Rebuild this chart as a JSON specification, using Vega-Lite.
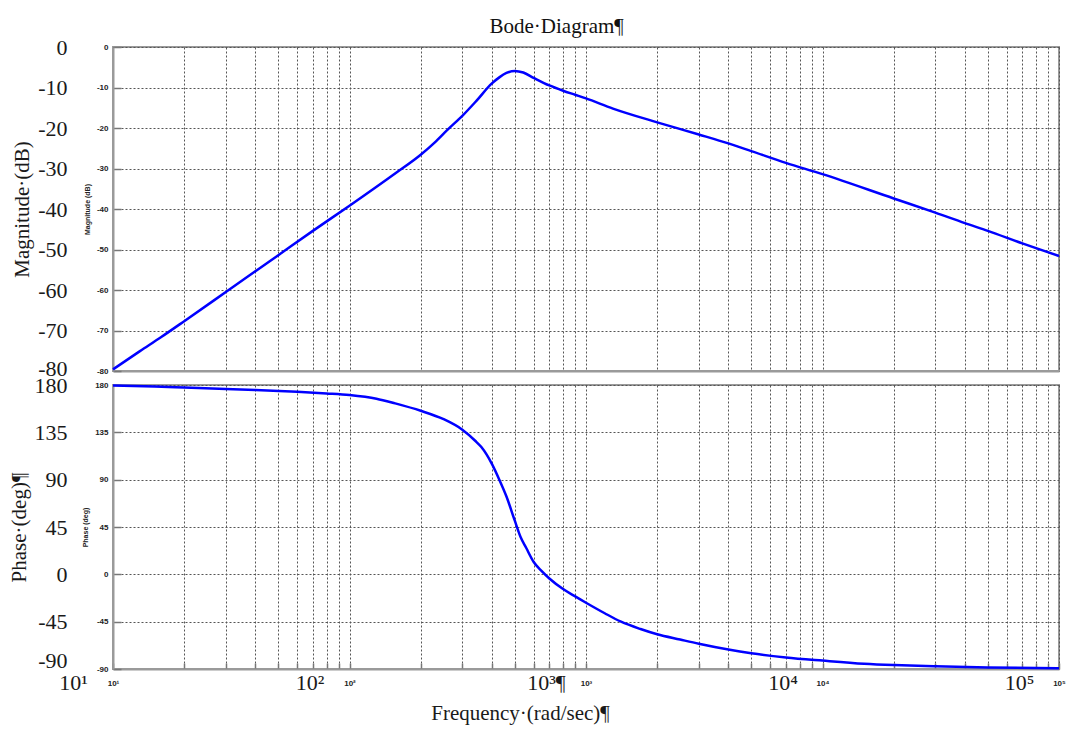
{
  "$schema": "https://vega.github.io/schema/vega-lite/v6.json",
  "background": "white",
  "padding": {"left": 7, "top": 16, "right": 4, "bottom": 4},
  "title": {"text": "Bode·Diagram¶", "font": "Liberation Serif", "fontSize": 21, "fontWeight": "normal", "color": "#111111", "anchor": "middle", "offset": -2, "dx": 20},
  "datasets": {
    "mag": [
      {"freq": 10, "mag": -79.6}, {"freq": 13, "mag": -75.1}, {"freq": 16, "mag": -71.6}, {"freq": 20, "mag": -67.7},
      {"freq": 30, "mag": -60.5}, {"freq": 50, "mag": -51.4}, {"freq": 70, "mag": -45.4}, {"freq": 100, "mag": -39.2},
      {"freq": 158, "mag": -31.0}, {"freq": 200, "mag": -26.6}, {"freq": 229, "mag": -23.6}, {"freq": 260, "mag": -20.4},
      {"freq": 300, "mag": -17.0}, {"freq": 344, "mag": -13.3}, {"freq": 400, "mag": -9.0}, {"freq": 430, "mag": -7.5},
      {"freq": 461, "mag": -6.4}, {"freq": 500, "mag": -5.9}, {"freq": 543, "mag": -6.3}, {"freq": 600, "mag": -7.6},
      {"freq": 700, "mag": -9.5}, {"freq": 800, "mag": -10.8}, {"freq": 900, "mag": -11.8}, {"freq": 1000, "mag": -12.7},
      {"freq": 1300, "mag": -15.2}, {"freq": 2000, "mag": -18.6}, {"freq": 3000, "mag": -21.6}, {"freq": 4000, "mag": -23.8},
      {"freq": 5000, "mag": -25.7}, {"freq": 7000, "mag": -28.6}, {"freq": 10000, "mag": -31.4}, {"freq": 20000, "mag": -37.4},
      {"freq": 30000, "mag": -40.9}, {"freq": 40000, "mag": -43.5}, {"freq": 50000, "mag": -45.4}, {"freq": 70000, "mag": -48.5},
      {"freq": 100000, "mag": -51.6}
    ],
    "phase": [
      {"freq": 10, "phase": 179.5}, {"freq": 15, "phase": 178.6}, {"freq": 20, "phase": 177.6}, {"freq": 30, "phase": 176.3},
      {"freq": 40, "phase": 175.2}, {"freq": 60, "phase": 173.5}, {"freq": 80, "phase": 172.0}, {"freq": 100, "phase": 170.5},
      {"freq": 130, "phase": 167.0}, {"freq": 156, "phase": 162.5}, {"freq": 200, "phase": 155.5}, {"freq": 250, "phase": 147.5},
      {"freq": 300, "phase": 137.5}, {"freq": 340, "phase": 127.0}, {"freq": 361, "phase": 121.0}, {"freq": 400, "phase": 105.0},
      {"freq": 430, "phase": 90.0}, {"freq": 461, "phase": 74.0}, {"freq": 500, "phase": 51.0}, {"freq": 530, "phase": 35.0},
      {"freq": 559, "phase": 25.0}, {"freq": 600, "phase": 12.0}, {"freq": 650, "phase": 3.0}, {"freq": 700, "phase": -4.0},
      {"freq": 800, "phase": -14.0}, {"freq": 900, "phase": -21.0}, {"freq": 1000, "phase": -27.0}, {"freq": 1200, "phase": -37.0},
      {"freq": 1406, "phase": -45.0}, {"freq": 1700, "phase": -52.0}, {"freq": 2000, "phase": -57.0}, {"freq": 2500, "phase": -62.0},
      {"freq": 3000, "phase": -66.0}, {"freq": 4000, "phase": -71.5}, {"freq": 5000, "phase": -75.0}, {"freq": 7000, "phase": -79.0},
      {"freq": 10000, "phase": -82.0}, {"freq": 15000, "phase": -85.0}, {"freq": 20000, "phase": -86.3}, {"freq": 30000, "phase": -87.5},
      {"freq": 50000, "phase": -88.5}, {"freq": 100000, "phase": -89.2}
    ]
  },
  "config": {
    "view": {"stroke": "#9a9a9a", "strokeWidth": 2},
    "axis": {"domainColor": "#9a9a9a", "domainWidth": 2, "gridColor": "#555555", "gridDash": [2, 2], "gridWidth": 1, "tickColor": "#777777", "tickWidth": 1.5}
  },
  "spacing": 14,
  "bounds": "flush",
  "vconcat": [
    {
      "width": 946,
      "height": 324,
      "data": {"name": "mag"},
      "layer": [
        {
          "mark": {"type": "line", "color": "#0000ff", "strokeWidth": 2.5, "interpolate": "monotone"},
          "encoding": {
            "x": {"field": "freq", "type": "quantitative", "scale": {"type": "log", "domain": [10, 100000]},
              "axis": {"values": [10,20,30,40,50,60,70,80,90,100,200,300,400,500,600,700,800,900,1000,2000,3000,4000,5000,6000,7000,8000,9000,10000,20000,30000,40000,50000,60000,70000,80000,90000,100000],
                "labels": false, "ticks": false, "grid": true, "title": null}},
            "y": {"field": "mag", "type": "quantitative", "scale": {"domain": [-80, 0], "nice": false, "zero": false},
              "axis": {"values": [0,-10,-20,-30,-40,-50,-60,-70,-80], "grid": true, "tickSize": -8,
                "labelExpr": "'' + datum.value",
                "labelFont": "Liberation Sans", "labelFontSize": 8, "labelFontWeight": "bold", "labelColor": "#222222", "labelPadding": 13,
                "title": "Magnitude (dB)", "titleFont": "Liberation Sans", "titleFontSize": 7, "titleFontWeight": "bold", "titleColor": "#222222", "titlePadding": 6}}
          }
        },
        {
          "mark": {"type": "line", "strokeOpacity": 0},
          "encoding": {
            "x": {"field": "freq", "type": "quantitative"},
            "y": {"field": "mag", "type": "quantitative",
              "axis": {"orient": "left", "offset": 46, "values": [0,-10,-20,-30,-40,-50,-60,-70,-80], "domain": false, "ticks": false, "grid": false,
                "labelExpr": "'' + datum.value",
                "labelFont": "Liberation Serif", "labelFontSize": 22, "labelColor": "#1a1a1a", "labelPadding": 0,
                "labelOffset": {"condition": {"test": "datum.value == -80", "value": -3}, "value": 0},
                "title": "Magnitude·(dB)", "titleFont": "Liberation Serif", "titleFontSize": 21, "titleFontWeight": "normal", "titleColor": "#1a1a1a", "titlePadding": 5}}
          }
        }
      ],
      "resolve": {"axis": {"y": "independent"}}
    },
    {
      "width": 946,
      "height": 284,
      "data": {"name": "phase"},
      "layer": [
        {
          "mark": {"type": "line", "color": "#0000ff", "strokeWidth": 2.5, "interpolate": "monotone"},
          "encoding": {
            "x": {"field": "freq", "type": "quantitative", "scale": {"type": "log", "domain": [10, 100000]},
              "axis": {"values": [10,20,30,40,50,60,70,80,90,100,200,300,400,500,600,700,800,900,1000,2000,3000,4000,5000,6000,7000,8000,9000,10000,20000,30000,40000,50000,60000,70000,80000,90000,100000],
                "grid": true, "tickSize": -6, "labelOverlap": false, "labelFlush": false, "labelBound": false,
                "labelExpr": "datum.value == 10 ? '10¹' : datum.value == 100 ? '10²' : datum.value == 1000 ? '10³' : datum.value == 10000 ? '10⁴' : datum.value == 100000 ? '10⁵' : ''",
                "labelFont": "Liberation Sans", "labelFontSize": 8, "labelFontWeight": "bold", "labelColor": "#222222", "labelPadding": 16, "title": null}},
            "y": {"field": "phase", "type": "quantitative", "scale": {"domain": [-90, 180], "nice": false, "zero": false},
              "axis": {"values": [180,135,90,45,0,-45,-90], "grid": true, "tickSize": -8,
                "labelExpr": "'' + datum.value",
                "labelFont": "Liberation Sans", "labelFontSize": 8, "labelFontWeight": "bold", "labelColor": "#222222", "labelPadding": 13,
                "title": "Phase (deg)", "titleFont": "Liberation Sans", "titleFontSize": 7, "titleFontWeight": "bold", "titleColor": "#222222", "titlePadding": 6}}
          }
        },
        {
          "mark": {"type": "line", "strokeOpacity": 0},
          "encoding": {
            "x": {"field": "freq", "type": "quantitative",
              "axis": {"orient": "bottom", "values": [10,100,1000,10000,100000], "domain": false, "ticks": false, "grid": false,
                "labelOverlap": false, "labelFlush": false, "labelBound": false, "labelOffset": -40, "labelPadding": 3,
                "labelExpr": "datum.value == 10 ? '10¹' : datum.value == 100 ? '10²' : datum.value == 1000 ? '10³¶' : datum.value == 10000 ? '10⁴' : '10⁵'",
                "labelFont": "Liberation Serif", "labelFontSize": 22, "labelColor": "#1a1a1a",
                "title": "Frequency·(rad/sec)¶", "titleFont": "Liberation Serif", "titleFontSize": 21, "titleFontWeight": "normal", "titleColor": "#1a1a1a",
                "titleX": 407, "titleY": 44, "titleBaseline": "middle"}},
            "y": {"field": "phase", "type": "quantitative",
              "axis": {"orient": "left", "offset": 46, "values": [180,135,90,45,0,-45,-90], "domain": false, "ticks": false, "grid": false,
                "labelExpr": "'' + datum.value",
                "labelFont": "Liberation Serif", "labelFontSize": 22, "labelColor": "#1a1a1a", "labelPadding": 0,
                "labelOffset": {"condition": {"test": "datum.value == -90", "value": -9}, "value": 0},
                "title": "Phase·(deg)¶", "titleFont": "Liberation Serif", "titleFontSize": 21, "titleFontWeight": "normal", "titleColor": "#1a1a1a", "titlePadding": 5}}
          }
        }
      ],
      "resolve": {"axis": {"x": "independent", "y": "independent"}}
    }
  ]
}
